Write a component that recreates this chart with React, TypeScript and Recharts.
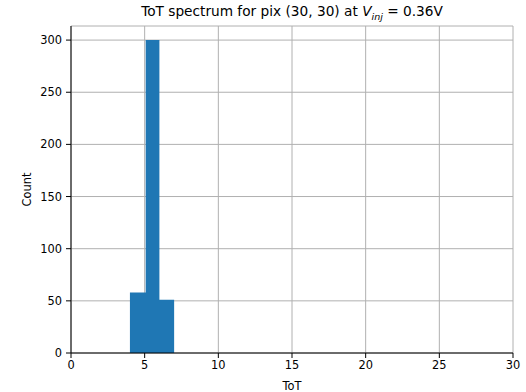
import {
  Area,
  CartesianGrid,
  ComposedChart,
  XAxis,
  YAxis,
} from "recharts";

const BLUE = "#1f77b4";
const GRID = "#b0b0b0";

// histogram bin edges (ToT) and counts per bin
const binEdges = [4, 5.07, 6, 7];
const counts = [58, 300, 51];
const xTicks = [0, 5, 10, 15, 20, 25, 30];
const yTicks = [0, 50, 100, 150, 200, 250, 300];
const yMax = 313.5;

const stepData = binEdges.map((edge, i) => ({
  tot: edge,
  count: i < counts.length ? counts[i] : 0,
}));

const FONT = "'DejaVu Sans', sans-serif";

export default function App() {
  return (
    <div
      style={{
        position: "absolute",
        left: 0,
        top: 0,
        width: 526,
        height: 392,
        background: "#fff",
        fontFamily: FONT,
      }}
    >
      <div
        style={{
          position: "absolute",
          left: 71,
          width: 442,
          top: 3,
          textAlign: "center",
          fontSize: 13.7,
          color: "#000",
          whiteSpace: "nowrap",
        }}
      >
        ToT spectrum for pix (30, 30) at <i>V</i>
        <sub style={{ fontSize: 9.5, fontStyle: "italic" }}>inj</sub>
        <span> = 0.36V</span>
      </div>
      <ComposedChart
        width={526}
        height={392}
        data={stepData}
        margin={{ top: 26, right: 13, bottom: 0, left: 0 }}
      >
        <Area
          type="stepAfter"
          dataKey="count"
          fill={BLUE}
          fillOpacity={1}
          stroke="none"
          baseValue={0}
          isAnimationActive={false}
          dot={false}
          activeDot={false}
        />
        <CartesianGrid stroke={GRID} strokeWidth={1} />
        <XAxis
          dataKey="tot"
          type="number"
          domain={[0, 30]}
          ticks={xTicks}
          interval={0}
          allowDataOverflow
          height={39}
          stroke="#000"
          tickSize={5}
          tickMargin={3}
          tick={{ fontSize: 11.4, fill: "#000", fontFamily: FONT }}
          label={{
            value: "ToT",
            position: "insideBottom",
            offset: 2,
            fontSize: 11.4,
            fill: "#000",
            fontFamily: FONT,
          }}
        />
        <XAxis
          xAxisId="top"
          orientation="top"
          type="number"
          domain={[0, 30]}
          tick={false}
          tickLine={false}
          stroke="#000"
          height={0}
        />
        <YAxis
          type="number"
          domain={[0, yMax]}
          ticks={yTicks}
          interval={0}
          allowDataOverflow
          width={71}
          stroke="#000"
          tickSize={5}
          tickMargin={4}
          tick={{ fontSize: 11.4, fill: "#000", fontFamily: FONT }}
          label={{
            value: "Count",
            angle: -90,
            position: "insideLeft",
            offset: 27,
            fontSize: 11.4,
            fill: "#000",
            fontFamily: FONT,
            style: { textAnchor: "middle" },
          }}
        />
        <YAxis
          yAxisId="right"
          orientation="right"
          type="number"
          domain={[0, yMax]}
          tick={false}
          tickLine={false}
          stroke="#000"
          width={0}
        />
      </ComposedChart>
    </div>
  );
}
